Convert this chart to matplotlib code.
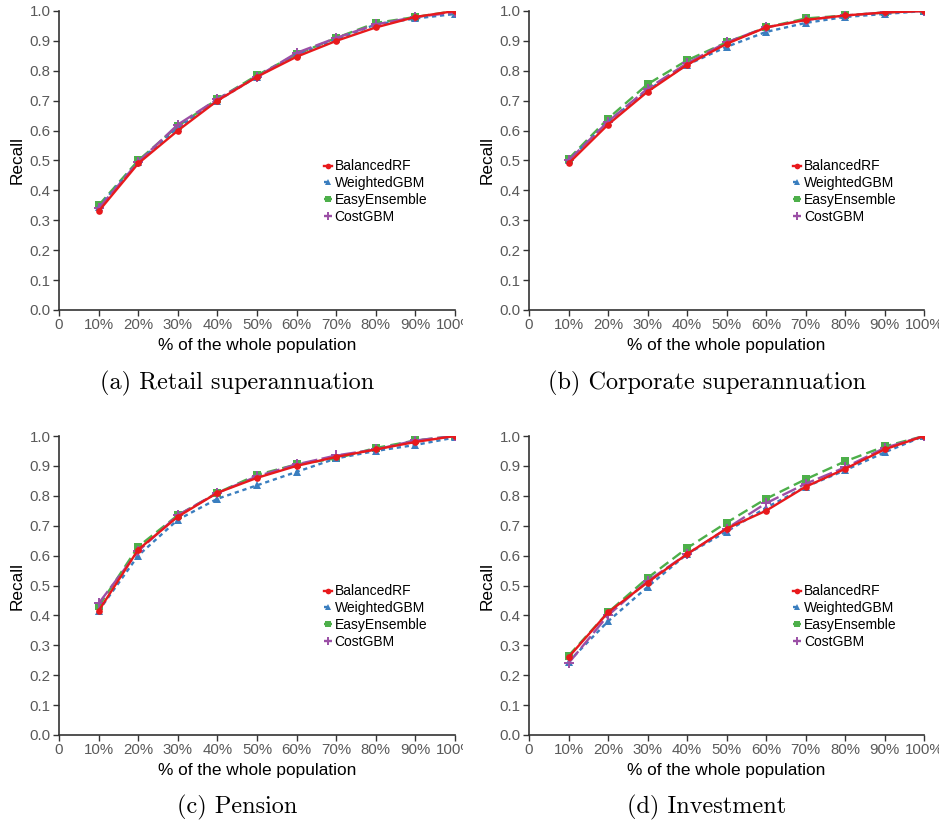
import matplotlib
matplotlib.use("Agg")
import matplotlib.pyplot as plt
from matplotlib.transforms import Bbox, TransformedBbox

plt.rcParams['font.family'] = ['Liberation Sans', 'DejaVu Sans']

x_labels = ['0', '10%', '20%', '30%', '40%', '50%', '60%', '70%', '80%', '90%', '100%']
x_pos = [1, 2, 3, 4, 5, 6, 7, 8, 9, 10]
series_names = ['BalancedRF', 'WeightedGBM', 'EasyEnsemble', 'CostGBM']
captions = ['(a) Retail superannuation', '(b) Corporate superannuation',
            '(c) Pension', '(d) Investment']

retail_balancedrf = [0.33, 0.49, 0.60, 0.70, 0.78, 0.847, 0.90, 0.945, 0.98, 1.0]
retail_weightedgbm = [0.345, 0.495, 0.61, 0.70, 0.78, 0.855, 0.905, 0.955, 0.975, 0.99]
retail_easyensemble = [0.35, 0.50, 0.615, 0.705, 0.785, 0.855, 0.91, 0.96, 0.98, 1.0]
retail_costgbm = [0.34, 0.495, 0.62, 0.705, 0.78, 0.86, 0.91, 0.955, 0.98, 0.995]

corporate_balancedrf = [0.49, 0.62, 0.73, 0.82, 0.89, 0.945, 0.97, 0.985, 0.995, 1.0]
corporate_weightedgbm = [0.50, 0.63, 0.735, 0.82, 0.88, 0.93, 0.96, 0.98, 0.99, 1.0]
corporate_easyensemble = [0.505, 0.64, 0.755, 0.835, 0.895, 0.945, 0.975, 0.985, 0.995, 1.0]
corporate_costgbm = [0.50, 0.63, 0.74, 0.825, 0.895, 0.945, 0.97, 0.985, 0.995, 1.0]

pension_balancedrf = [0.415, 0.62, 0.73, 0.81, 0.86, 0.90, 0.93, 0.955, 0.98, 1.0]
pension_weightedgbm = [0.415, 0.60, 0.72, 0.79, 0.835, 0.88, 0.925, 0.95, 0.97, 0.995]
pension_easyensemble = [0.43, 0.63, 0.735, 0.81, 0.87, 0.905, 0.925, 0.96, 0.985, 1.0]
pension_costgbm = [0.44, 0.615, 0.735, 0.81, 0.865, 0.905, 0.935, 0.955, 0.985, 1.0]

investment_balancedrf = [0.26, 0.41, 0.51, 0.605, 0.69, 0.75, 0.83, 0.89, 0.955, 1.0]
investment_weightedgbm = [0.245, 0.38, 0.495, 0.605, 0.68, 0.76, 0.83, 0.885, 0.945, 1.0]
investment_easyensemble = [0.265, 0.41, 0.525, 0.625, 0.71, 0.79, 0.855, 0.915, 0.965, 1.0]
investment_costgbm = [0.24, 0.40, 0.515, 0.605, 0.69, 0.775, 0.84, 0.895, 0.96, 1.0]

panels = [
    [retail_balancedrf, retail_weightedgbm, retail_easyensemble, retail_costgbm],
    [corporate_balancedrf, corporate_weightedgbm, corporate_easyensemble, corporate_costgbm],
    [pension_balancedrf, pension_weightedgbm, pension_easyensemble, pension_costgbm],
    [investment_balancedrf, investment_weightedgbm, investment_easyensemble, investment_costgbm],
]

styles = [
    dict(color='#e8191c', ls='-', marker='o', ms=4.8, mew=0, zorder=5),
    dict(color='#3a7ebf', ls=(0, (1.8, 1.6)), marker='^', ms=5.3, mew=0, zorder=3),
    dict(color='#4daf4a', ls=(0, (4.5, 2.2)), marker='s', ms=5.3, mew=0, zorder=2),
    dict(color='#9b4fa6', ls=(0, (6.5, 1.8)), marker='+', ms=7.5, mew=1.4, zorder=4),
]

W, H = 939, 826
fig = plt.figure(figsize=(W / 100, H / 100), dpi=100)

ax_px = [(59, 11, 455, 310), (529, 11, 924, 310), (59, 436, 455, 735), (529, 436, 924, 735)]
cap_pos = [(237, 383), (707, 383), (237, 807), (707, 807)]
clip_right = [463, W, 463, W]

for i, (l, t, r, b) in enumerate(ax_px):
    ax = fig.add_axes([l / W, 1 - b / H, (r - l) / W, (b - t) / H])
    handles = []
    for vals, name, st in zip(panels[i], series_names, styles):
        h, = ax.plot(x_pos, vals, lw=1.7, label=name, **st)
        handles.append(h)
    ax.set_xlim(0, 10)
    ax.set_ylim(0, 1.0)
    ax.set_xticks(range(11))
    ax.set_xticklabels(x_labels)
    ax.set_yticks([k / 10 for k in range(11)])
    ax.set_yticklabels([f'{k / 10:.1f}' for k in range(11)])
    for s in ['top', 'right']:
        ax.spines[s].set_visible(False)
    for s in ['left', 'bottom']:
        ax.spines[s].set_color('#333333')
        ax.spines[s].set_linewidth(1.2)
    ax.tick_params(axis='both', direction='out', length=4, width=1, color='#333333',
                   labelsize=10.8, labelcolor='#595959', pad=2)
    ax.set_xlabel('% of the whole population', fontsize=12.4, color='black')
    ax.set_ylabel('Recall', fontsize=12.4, color='black')
    ax.xaxis.set_label_coords(0.5, -0.092)
    ax.yaxis.set_label_coords(-0.107, 0.5)
    ax.yaxis.label.set_va('center')
    ax.xaxis.label.set_va('top')
    leg = ax.legend(handles=handles, loc='center left', bbox_to_anchor=(0.668, 0.396),
                    frameon=False, fontsize=10, handlelength=0.6, handletextpad=0.2,
                    labelspacing=0.2, borderpad=0, borderaxespad=0, markerscale=0.85)
    cb = TransformedBbox(Bbox.from_extents(0, 0, clip_right[i] / W, 1), fig.transFigure)
    for tk in ax.xaxis.get_major_ticks():
        tk.label1.set_clip_box(cb)
        tk.label1.set_clip_on(True)
    cx, cy = cap_pos[i]
    fig.text(cx / W, 1 - cy / H, captions[i], ha='center', va='center',
             fontsize=17.5, family='cmr10')

fig.savefig('out.png', dpi=100)
